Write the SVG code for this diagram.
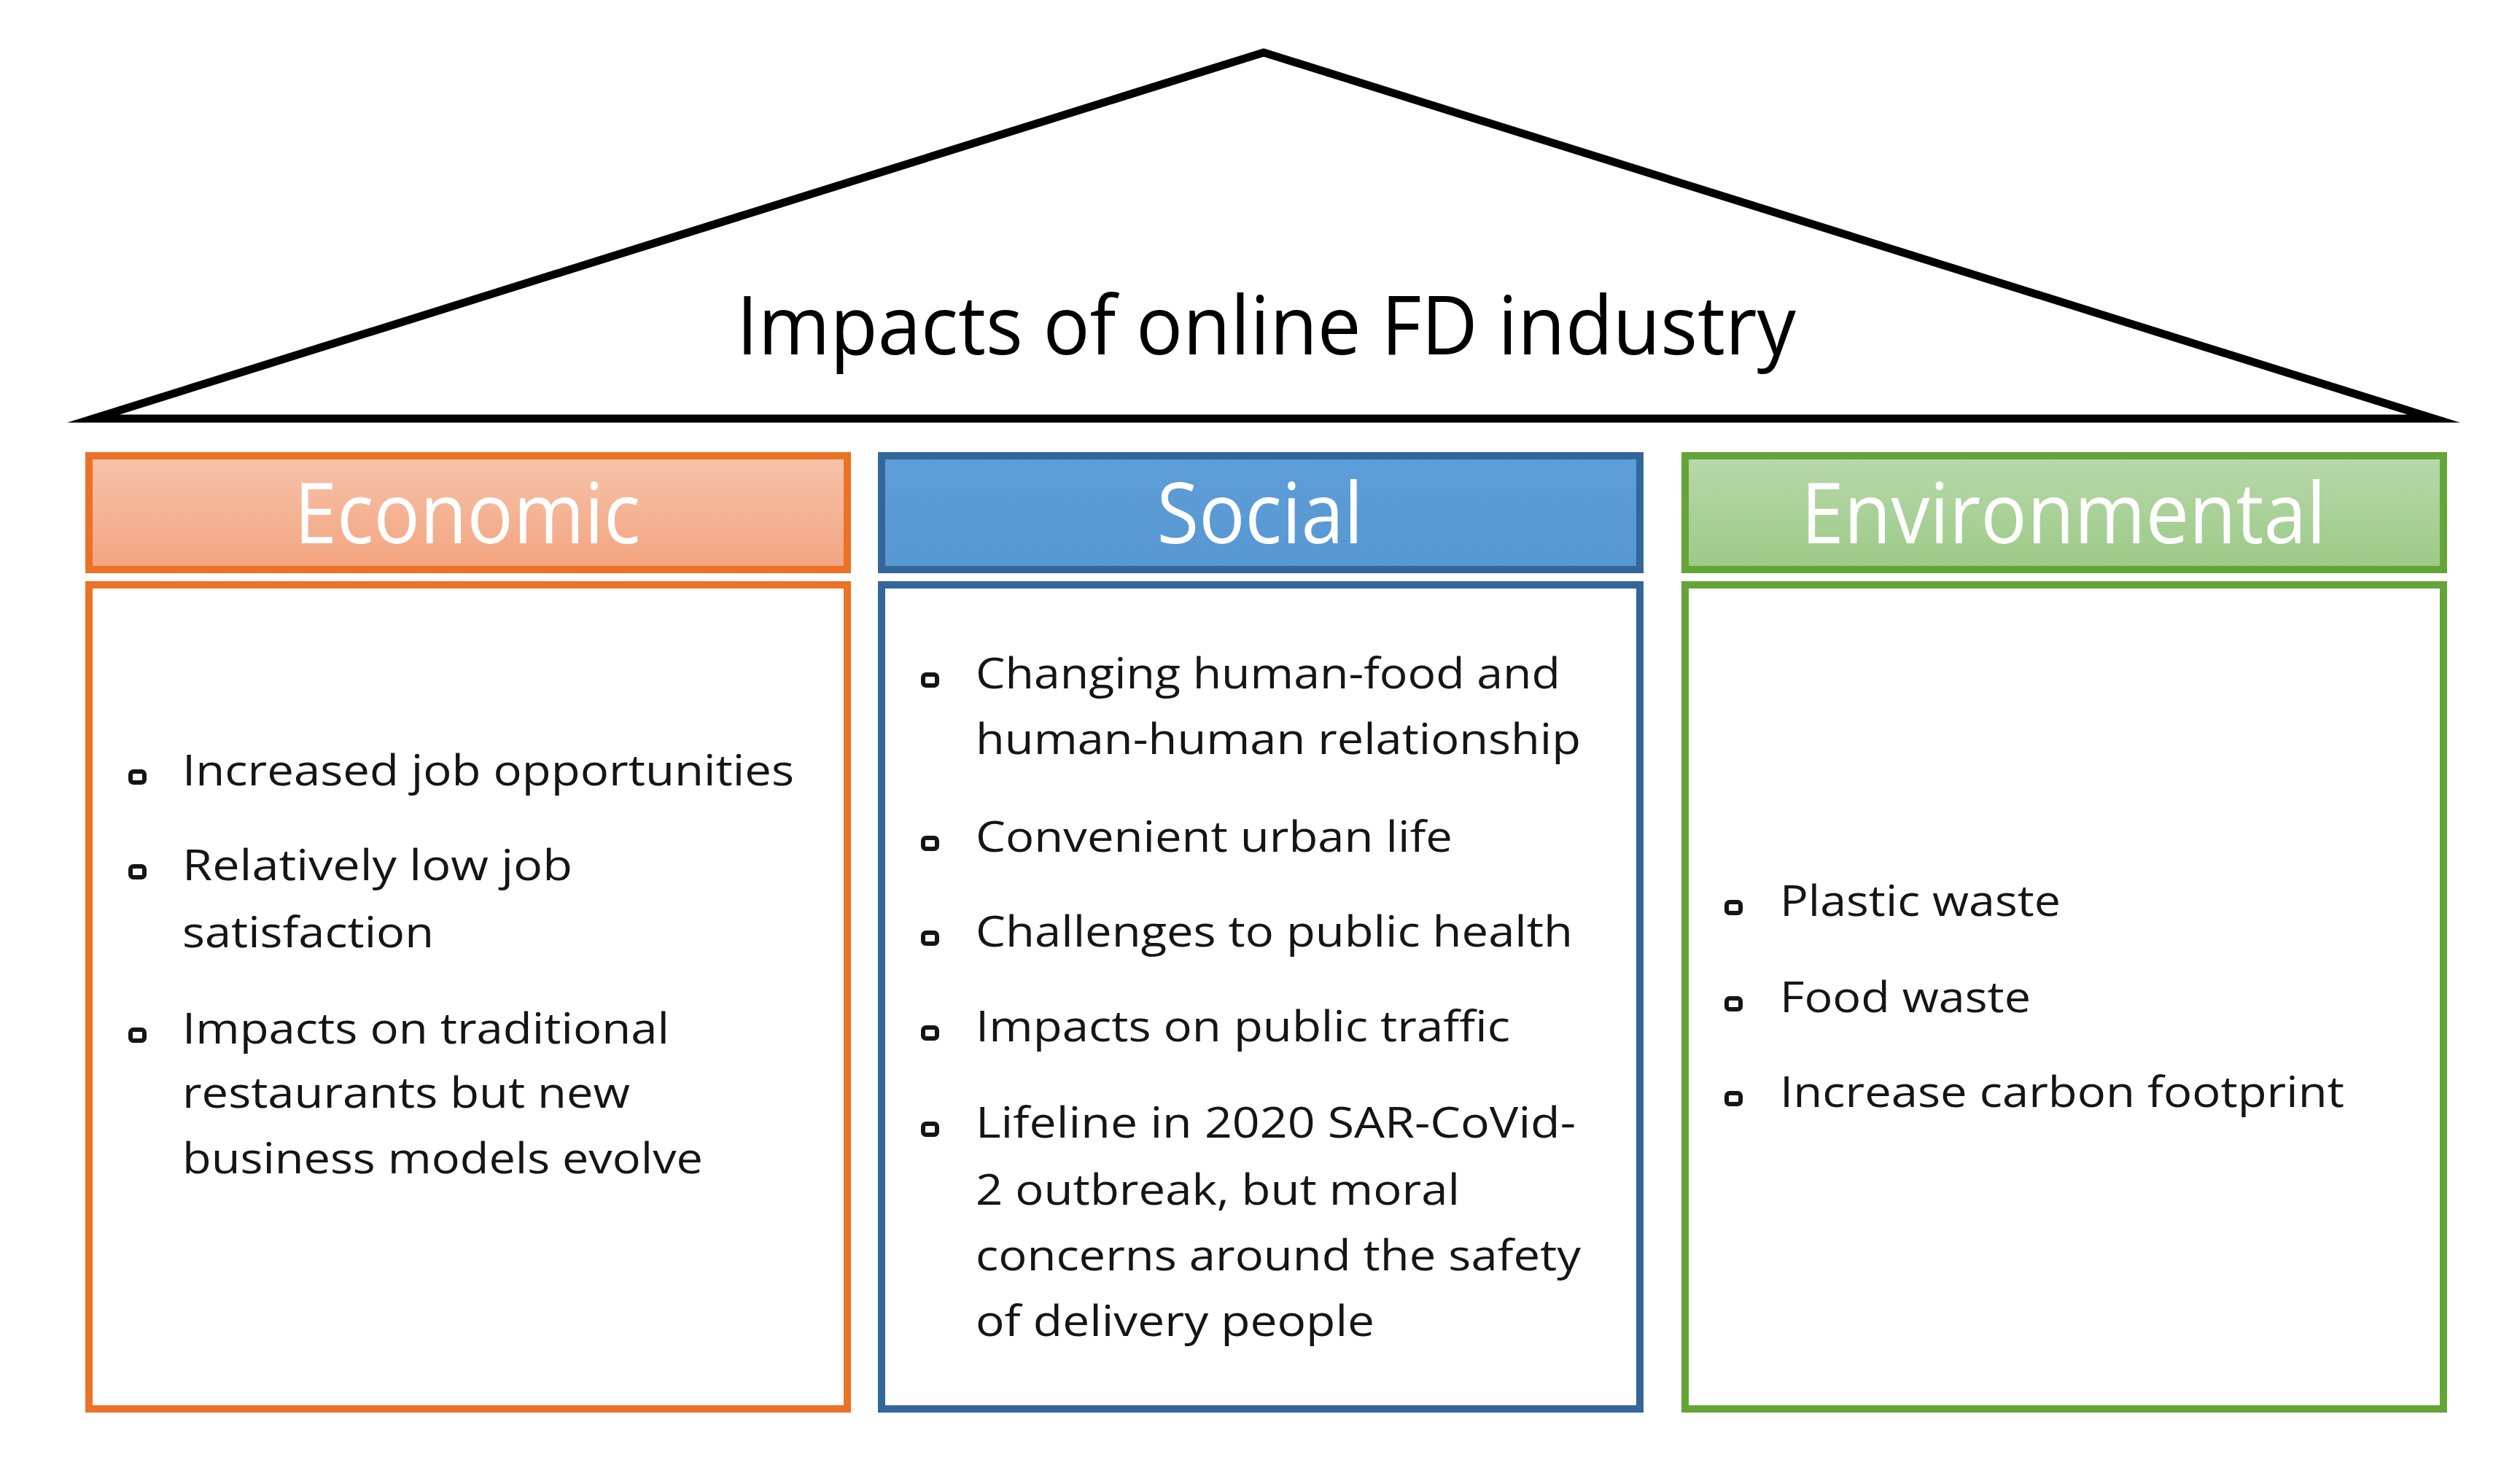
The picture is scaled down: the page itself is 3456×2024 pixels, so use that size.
<svg xmlns="http://www.w3.org/2000/svg" width="3456" height="2024" viewBox="0 0 3456 2024">
<defs>
<linearGradient id="gEco" x1="0" y1="0" x2="0" y2="1"><stop offset="0" stop-color="#F6C3AA"/><stop offset="1" stop-color="#F3A47F"/></linearGradient>
<linearGradient id="gSoc" x1="0" y1="0" x2="0" y2="1"><stop offset="0" stop-color="#5E9ED8"/><stop offset="1" stop-color="#5797D2"/></linearGradient>
<linearGradient id="gEnv" x1="0" y1="0" x2="0" y2="1"><stop offset="0" stop-color="#B8D8AB"/><stop offset="1" stop-color="#9CCA86"/></linearGradient>
</defs>
<style>
text{font-family:"Open Sans","Noto Sans","Liberation Sans",sans-serif;}
.title{font-size:112px;fill:#000;}
.head{font-size:116px;fill:#fff;text-anchor:middle;}
.item{font-size:59px;fill:#151515;}
.bul{fill:none;stroke:#151515;stroke-width:6;}
.eco{stroke:#EC7226;stroke-width:10;}
.soc{stroke:#33669A;stroke-width:10;}
.env{stroke:#63A537;stroke-width:10;}
</style>
<rect width="3456" height="2024" fill="#fff"/>
<g id="roof">
<polygon points="128,574 1733,72 3338,574" fill="#fff" stroke="#000" stroke-width="11" stroke-linejoin="miter" stroke-miterlimit="12"/>
<text class="title" x="1010" y="486" textLength="1453" lengthAdjust="spacingAndGlyphs">Impacts of online FD industry</text>
</g>
<g id="economic">
<rect class="eco" x="122" y="625" width="1040" height="156" fill="url(#gEco)"/>
<text class="head" x="641" y="745" textLength="475" lengthAdjust="spacingAndGlyphs">Economic</text>
<rect class="eco" x="122" y="802" width="1040" height="1130" fill="#fff"/>
<rect class="bul" x="179" y="1058" width="19" height="15" rx="4"/>
<rect class="bul" x="179" y="1188" width="19" height="15" rx="4"/>
<rect class="bul" x="179" y="1412" width="19" height="15" rx="4"/>
<text class="item" x="250" y="1077" textLength="839" lengthAdjust="spacingAndGlyphs">Increased job opportunities</text>
<text class="item" x="250" y="1207" textLength="535" lengthAdjust="spacingAndGlyphs">Relatively low job</text>
<text class="item" x="250" y="1299" textLength="345" lengthAdjust="spacingAndGlyphs">satisfaction</text>
<text class="item" x="250" y="1431" textLength="668" lengthAdjust="spacingAndGlyphs">Impacts on traditional</text>
<text class="item" x="250" y="1519" textLength="614" lengthAdjust="spacingAndGlyphs">restaurants but new</text>
<text class="item" x="250" y="1609" textLength="714" lengthAdjust="spacingAndGlyphs">business models evolve</text>
</g>
<g id="social">
<rect class="soc" x="1209" y="625" width="1040" height="156" fill="url(#gSoc)"/>
<text class="head" x="1728" y="745" textLength="283" lengthAdjust="spacingAndGlyphs">Social</text>
<rect class="soc" x="1209" y="802" width="1040" height="1130" fill="#fff"/>
<rect class="bul" x="1266" y="925" width="19" height="15" rx="4"/>
<rect class="bul" x="1266" y="1149" width="19" height="15" rx="4"/>
<rect class="bul" x="1266" y="1279" width="19" height="15" rx="4"/>
<rect class="bul" x="1266" y="1409" width="19" height="15" rx="4"/>
<rect class="bul" x="1266" y="1541" width="19" height="15" rx="4"/>
<text class="item" x="1338" y="944" textLength="802" lengthAdjust="spacingAndGlyphs">Changing human-food and</text>
<text class="item" x="1338" y="1034" textLength="830" lengthAdjust="spacingAndGlyphs">human-human relationship</text>
<text class="item" x="1338" y="1168" textLength="654" lengthAdjust="spacingAndGlyphs">Convenient urban life</text>
<text class="item" x="1338" y="1298" textLength="819" lengthAdjust="spacingAndGlyphs">Challenges to public health</text>
<text class="item" x="1338" y="1428" textLength="733" lengthAdjust="spacingAndGlyphs">Impacts on public traffic</text>
<text class="item" x="1338" y="1560" textLength="823" lengthAdjust="spacingAndGlyphs">Lifeline in 2020 SAR-CoVid-</text>
<text class="item" x="1338" y="1652" textLength="664" lengthAdjust="spacingAndGlyphs">2 outbreak, but moral</text>
<text class="item" x="1338" y="1742" textLength="830" lengthAdjust="spacingAndGlyphs">concerns around the safety</text>
<text class="item" x="1338" y="1832" textLength="547" lengthAdjust="spacingAndGlyphs">of delivery people</text>
</g>
<g id="environmental">
<rect class="env" x="2311" y="625" width="1040" height="156" fill="url(#gEnv)"/>
<text class="head" x="2830" y="745" textLength="720" lengthAdjust="spacingAndGlyphs">Environmental</text>
<rect class="env" x="2311" y="802" width="1040" height="1130" fill="#fff"/>
<rect class="bul" x="2368" y="1237" width="19" height="15" rx="4"/>
<rect class="bul" x="2368" y="1369" width="19" height="15" rx="4"/>
<rect class="bul" x="2368" y="1499" width="19" height="15" rx="4"/>
<text class="item" x="2441" y="1256" textLength="385" lengthAdjust="spacingAndGlyphs">Plastic waste</text>
<text class="item" x="2441" y="1388" textLength="344" lengthAdjust="spacingAndGlyphs">Food waste</text>
<text class="item" x="2441" y="1518" textLength="774" lengthAdjust="spacingAndGlyphs">Increase carbon footprint</text>
</g>
<g id="connectors"/>
</svg>
